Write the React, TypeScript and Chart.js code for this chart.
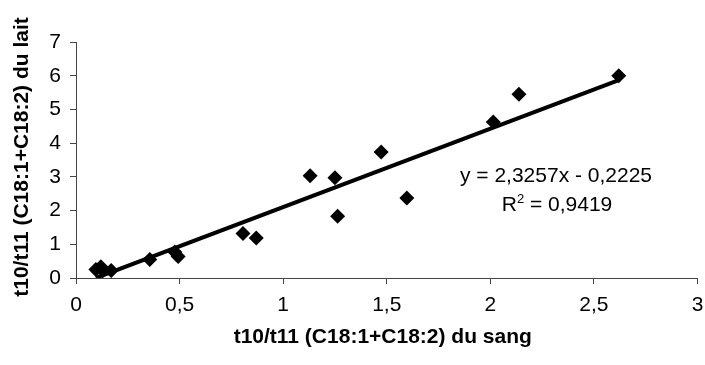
import React, { useEffect, useRef } from "react";
import { Chart, registerables } from "chart.js";

Chart.register(...registerables);

// t10/t11 ratio (C18:1 + C18:2) in blood vs. in milk
const bloodRatio = [0.096, 0.12, 0.13, 0.17, 0.356, 0.477, 0.493, 0.806, 0.87, 1.13, 1.25, 1.263, 1.473, 1.597, 2.014, 2.138, 2.62];
const milkRatio = [0.25, 0.33, 0.22, 0.22, 0.55, 0.77, 0.64, 1.32, 1.19, 3.03, 2.97, 1.83, 3.74, 2.37, 4.63, 5.45, 6.0];

// Linear trend line
const slope = 2.3257;
const intercept = -0.2225;
const rSquared = 0.9419;

const xLabel = "t10/t11 (C18:1+C18:2) du sang";
const yLabel = "t10/t11 (C18:1+C18:2) du lait";

const FONT = "'Liberation Sans', Arial, Helvetica, sans-serif";
const TEXT_SIZE = 21;

const fmt = (v: number, digits?: number) =>
  (digits === undefined ? String(v) : v.toFixed(digits)).replace(".", ",");

const textPlugin = {
  id: "axisTextAndEquation",
  afterDraw(chart: any) {
    const { ctx, chartArea } = chart;
    const cx = (chartArea.left + chartArea.right) / 2;
    const cy = (chartArea.top + chartArea.bottom) / 2;
    ctx.save();
    ctx.fillStyle = "#000";
    ctx.textBaseline = "middle";
    ctx.textAlign = "center";

    // axis titles
    ctx.font = `bold ${TEXT_SIZE}px ${FONT}`;
    ctx.fillText(xLabel, cx - 4, 337);
    ctx.save();
    ctx.translate(22, cy - 3);
    ctx.rotate(-Math.PI / 2);
    ctx.fillText(yLabel, 0, 0);
    ctx.restore();

    // regression equation
    ctx.font = `${TEXT_SIZE}px ${FONT}`;
    const sign = intercept < 0 ? "-" : "+";
    ctx.fillText(`y = ${fmt(slope, 4)}x ${sign} ${fmt(Math.abs(intercept), 4)}`, 556, 176);

    // R² line with a raised small 2
    const rPart = "R";
    const rest = ` = ${fmt(rSquared, 4)}`;
    const wR = ctx.measureText(rPart).width;
    const wRest = ctx.measureText(rest).width;
    ctx.font = `13px ${FONT}`;
    const wSup = ctx.measureText("2").width;
    const total = wR + wSup + wRest;
    let x = 557 - total / 2;
    ctx.textAlign = "left";
    ctx.font = `${TEXT_SIZE}px ${FONT}`;
    ctx.fillText(rPart, x, 205);
    x += wR;
    ctx.font = `13px ${FONT}`;
    ctx.fillText("2", x, 199);
    x += wSup;
    ctx.font = `${TEXT_SIZE}px ${FONT}`;
    ctx.fillText(rest, x, 205);
    ctx.restore();
  },
};

export default function App() {
  const canvasRef = useRef<HTMLCanvasElement | null>(null);

  useEffect(() => {
    if (!canvasRef.current) return;
    const points = bloodRatio.map((x, i) => ({ x, y: milkRatio[i] }));
    const xMin = Math.min(...bloodRatio);
    const xMax = Math.max(...bloodRatio);
    const trend = [
      { x: xMin, y: slope * xMin + intercept },
      { x: xMax, y: slope * xMax + intercept },
    ];

    const chart = new Chart(canvasRef.current, {
      type: "scatter",
      data: {
        datasets: [
          {
            data: trend,
            showLine: true,
            borderColor: "#000",
            borderWidth: 4,
            pointRadius: 0,
            order: 2,
          },
          {
            data: points,
            pointStyle: "rectRot",
            pointRadius: 7.5,
            backgroundColor: "#000",
            borderColor: "#000",
            borderWidth: 0,
            order: 1,
          },
        ],
      },
      options: {
        animation: false,
        responsive: false,
        layout: { padding: { top: 42, left: 0, right: 0, bottom: 0 } },
        plugins: {
          legend: { display: false },
          tooltip: { enabled: false },
        },
        scales: {
          x: {
            type: "linear",
            min: 0,
            max: 3,
            ticks: {
              stepSize: 0.5,
              color: "#000",
              font: { family: FONT, size: TEXT_SIZE },
              padding: 9,
              callback: (v: any) => fmt(Number(v)),
            },
            grid: {
              display: true,
              drawOnChartArea: false,
              drawTicks: true,
              tickLength: 6,
              color: "#444",
            },
            border: { color: "#444", width: 1 },
            afterFit: (scale: any) => {
              scale.height = 87;
              scale.paddingLeft = 0;
              scale.paddingRight = 6;
            },
          },
          y: {
            type: "linear",
            min: 0,
            max: 7,
            ticks: {
              stepSize: 1,
              color: "#000",
              font: { family: FONT, size: TEXT_SIZE },
              padding: 9,
              callback: (v: any) => fmt(Number(v)),
            },
            grid: {
              display: true,
              drawOnChartArea: false,
              drawTicks: true,
              tickLength: 6,
              color: "#444",
            },
            border: { color: "#444", width: 1 },
            afterFit: (scale: any) => {
              scale.width = 76;
            },
          },
        },
      },
      plugins: [textPlugin],
    });
    return () => chart.destroy();
  }, []);

  return (
    <div style={{ position: "fixed", left: 0, top: 0, width: 705, height: 365, background: "#fff" }}>
      <canvas ref={canvasRef} width={705} height={365} />
    </div>
  );
}
